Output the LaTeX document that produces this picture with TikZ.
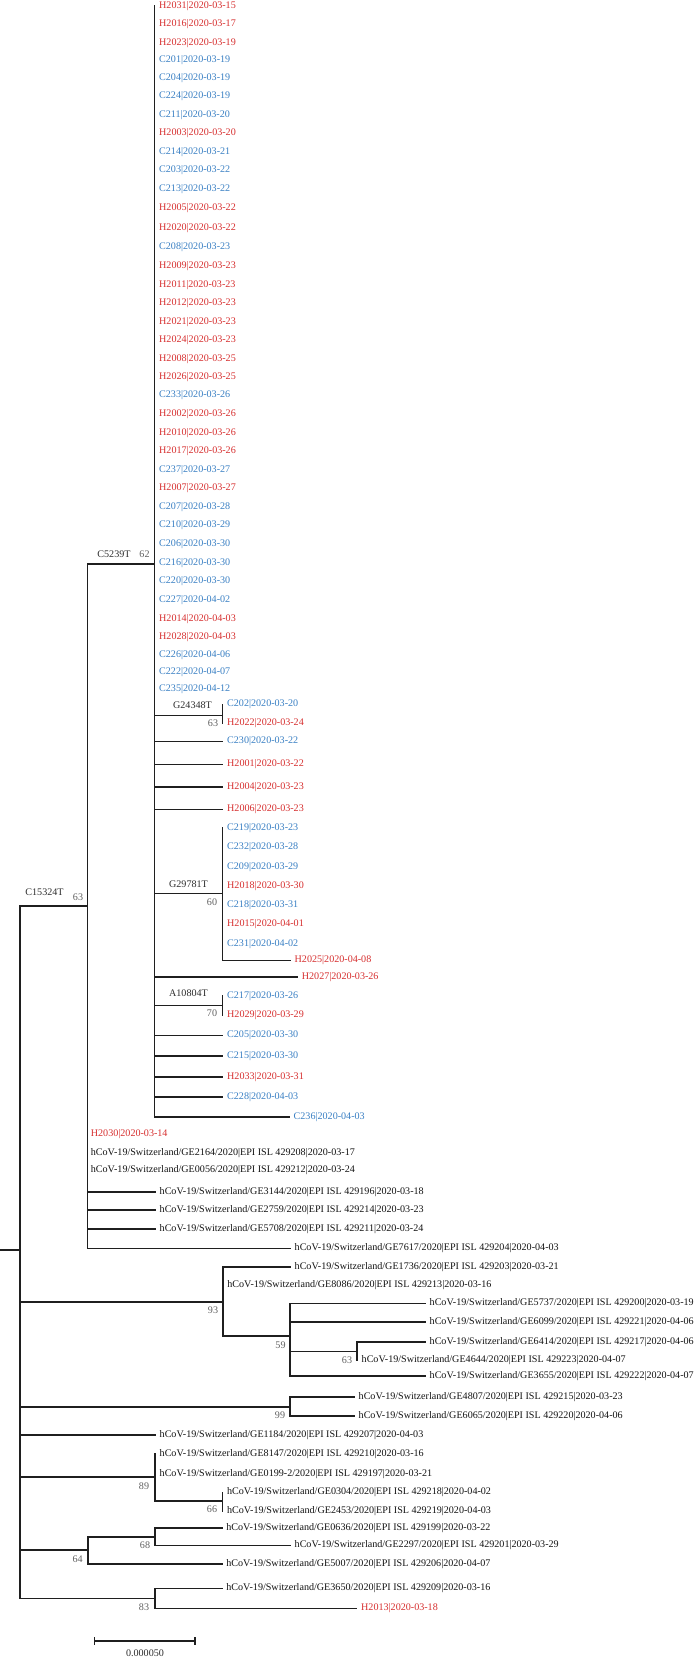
\documentclass[tikz,border=0pt]{standalone}
\usepackage{fontspec}
\setmainfont{Liberation Serif}
\definecolor{hred}{RGB}{215,48,48}
\definecolor{hblue}{RGB}{58,128,196}
\newcommand\lblfont{\fontsize{10.1}{12}\selectfont}
\newcommand\hcv{hCoV-19/Switzerland/}
\tikzset{
  br/.style={line width=1.6pt, draw=black!88, line cap=rect},
  leaf/.style={anchor=west, inner xsep=4.5pt, inner ysep=0pt, text height=6.9pt, text depth=2.2pt, font=\lblfont},
  rl/.style={leaf, text=hred},
  bl/.style={leaf, text=hblue},
  kl/.style={leaf, text=black!92},
  mut/.style={inner sep=0pt, text height=6.9pt, text depth=2.2pt, font=\lblfont, text=black!82},
  boot/.style={inner sep=0pt, text height=6.9pt, text depth=2.2pt, font=\lblfont, text=black!62},
}
\begin{document}
\begin{tikzpicture}[x=1pt,y=-1pt]
\fill[white] (0,0) rectangle (697,1660);
\useasboundingbox (0,0) rectangle (697,1660);

% internal nodes
\coordinate (r0) at (0,1250);
\coordinate (root) at (20,1250);
\coordinate (B) at (87.3,906);
\coordinate (A) at (154.5,563.7);
\coordinate (A1) at (222.5,715.3);
\coordinate (A2) at (222.5,893.3);
\coordinate (A3) at (222.5,1005.3);
\coordinate (C) at (222.7,1301.7);
\coordinate (C1) at (290,1336);
\coordinate (C2) at (357,1351.3);
\coordinate (D) at (290,1406.7);
\coordinate (E) at (155,1477);
\coordinate (E1) at (222.3,1500.7);
\coordinate (F) at (87.7,1549.7);
\coordinate (F1) at (155,1537);
\coordinate (G) at (155,1598.3);

% clade C5239T leaves
\node[rl] (h2031) at (154.5,6) {H2031|2020-03-15};
\node[rl] (h2016) at (154.5,24.3) {H2016|2020-03-17};
\node[rl] (h2023) at (154.5,42.7) {H2023|2020-03-19};
\node[bl] (c201) at (154.5,59.7) {C201|2020-03-19};
\node[bl] (c204) at (154.5,78) {C204|2020-03-19};
\node[bl] (c224) at (154.5,96.3) {C224|2020-03-19};
\node[bl] (c211) at (154.5,114.7) {C211|2020-03-20};
\node[rl] (h2003) at (154.5,133) {H2003|2020-03-20};
\node[bl] (c214) at (154.5,151.7) {C214|2020-03-21};
\node[bl] (c203) at (154.5,170.3) {C203|2020-03-22};
\node[bl] (c213) at (154.5,188.7) {C213|2020-03-22};
\node[rl] (h2005) at (154.5,208) {H2005|2020-03-22};
\node[rl] (h2020) at (154.5,227.7) {H2020|2020-03-22};
\node[bl] (c208) at (154.5,247.3) {C208|2020-03-23};
\node[rl] (h2009) at (154.5,266) {H2009|2020-03-23};
\node[rl] (h2011) at (154.5,284.7) {H2011|2020-03-23};
\node[rl] (h2012) at (154.5,303.3) {H2012|2020-03-23};
\node[rl] (h2021) at (154.5,321.7) {H2021|2020-03-23};
\node[rl] (h2024) at (154.5,340.3) {H2024|2020-03-23};
\node[rl] (h2008) at (154.5,359) {H2008|2020-03-25};
\node[rl] (h2026) at (154.5,377.3) {H2026|2020-03-25};
\node[bl] (c233) at (154.5,395.3) {C233|2020-03-26};
\node[rl] (h2002) at (154.5,414.3) {H2002|2020-03-26};
\node[rl] (h2010) at (154.5,433) {H2010|2020-03-26};
\node[rl] (h2017) at (154.5,451.3) {H2017|2020-03-26};
\node[bl] (c237) at (154.5,469.7) {C237|2020-03-27};
\node[rl] (h2007) at (154.5,487.7) {H2007|2020-03-27};
\node[bl] (c207) at (154.5,507) {C207|2020-03-28};
\node[bl] (c210) at (154.5,525.3) {C210|2020-03-29};
\node[bl] (c206) at (154.5,544) {C206|2020-03-30};
\node[bl] (c216) at (154.5,562.7) {C216|2020-03-30};
\node[bl] (c220) at (154.5,581.3) {C220|2020-03-30};
\node[bl] (c227) at (154.5,599.7) {C227|2020-04-02};
\node[rl] (h2014) at (154.5,618.7) {H2014|2020-04-03};
\node[rl] (h2028) at (154.5,637.3) {H2028|2020-04-03};
\node[bl] (c226) at (154.5,655) {C226|2020-04-06};
\node[bl] (c222) at (154.5,672) {C222|2020-04-07};
\node[bl] (c235) at (154.5,689) {C235|2020-04-12};

\node[bl] (c202) at (222.5,704.5) {C202|2020-03-20};
\node[rl] (h2022) at (222.5,723.5) {H2022|2020-03-24};
\node[bl] (c230) at (222.5,741.3) {C230|2020-03-22};
\node[rl] (h2001) at (222.5,764.3) {H2001|2020-03-22};
\node[rl] (h2004) at (222.5,787) {H2004|2020-03-23};
\node[rl] (h2006) at (222.5,809.3) {H2006|2020-03-23};
\node[bl] (c219) at (222.5,827.7) {C219|2020-03-23};
\node[bl] (c232) at (222.5,847) {C232|2020-03-28};
\node[bl] (c209) at (222.5,866.7) {C209|2020-03-29};
\node[rl] (h2018) at (222.5,885.7) {H2018|2020-03-30};
\node[bl] (c218) at (222.5,905) {C218|2020-03-31};
\node[rl] (h2015) at (222.5,924.3) {H2015|2020-04-01};
\node[bl] (c231) at (222.5,943.7) {C231|2020-04-02};
\node[rl] (h2025) at (290,960.3) {H2025|2020-04-08};
\node[rl] (h2027) at (297.2,977) {H2027|2020-03-26};
\node[bl] (c217) at (222.5,995.7) {C217|2020-03-26};
\node[rl] (h2029) at (222.5,1015) {H2029|2020-03-29};
\node[bl] (c205) at (222.5,1035.3) {C205|2020-03-30};
\node[bl] (c215) at (222.5,1056) {C215|2020-03-30};
\node[rl] (h2033) at (222.5,1076.7) {H2033|2020-03-31};
\node[bl] (c228) at (222.5,1096.7) {C228|2020-04-03};
\node[bl] (c236) at (289,1116.7) {C236|2020-04-03};

% clade C15324T leaves
\node[rl] (h2030) at (86.2,1134.3) {H2030|2020-03-14};
\node[kl] (ge2164) at (86.2,1152.7) {\hcv GE2164/2020|EPI ISL 429208|2020-03-17};
\node[kl] (ge0056) at (86.2,1170.3) {\hcv GE0056/2020|EPI ISL 429212|2020-03-24};
\node[kl] (ge3144) at (155,1191.7) {\hcv GE3144/2020|EPI ISL 429196|2020-03-18};
\node[kl] (ge2759) at (155,1210) {\hcv GE2759/2020|EPI ISL 429214|2020-03-23};
\node[kl] (ge5708) at (155,1229) {\hcv GE5708/2020|EPI ISL 429211|2020-03-24};
\node[kl] (ge7617) at (290,1248.3) {\hcv GE7617/2020|EPI ISL 429204|2020-04-03};

% other clades
\node[kl] (ge1736) at (290,1266.7) {\hcv GE1736/2020|EPI ISL 429203|2020-03-21};
\node[kl] (ge8086) at (222.7,1285.3) {\hcv GE8086/2020|EPI ISL 429213|2020-03-16};
\node[kl] (ge5737) at (425,1303.3) {\hcv GE5737/2020|EPI ISL 429200|2020-03-19};
\node[kl] (ge6099) at (425,1322) {\hcv GE6099/2020|EPI ISL 429221|2020-04-06};
\node[kl] (ge6414) at (425,1341.7) {\hcv GE6414/2020|EPI ISL 429217|2020-04-06};
\node[kl] (ge4644) at (357,1360) {\hcv GE4644/2020|EPI ISL 429223|2020-04-07};
\node[kl] (ge3655) at (425,1376) {\hcv GE3655/2020|EPI ISL 429222|2020-04-07};
\node[kl] (ge4807) at (354,1396.7) {\hcv GE4807/2020|EPI ISL 429215|2020-03-23};
\node[kl] (ge6065) at (354,1415.7) {\hcv GE6065/2020|EPI ISL 429220|2020-04-06};
\node[kl] (ge1184) at (155,1435) {\hcv GE1184/2020|EPI ISL 429207|2020-04-03};
\node[kl] (ge8147) at (155,1454) {\hcv GE8147/2020|EPI ISL 429210|2020-03-16};
\node[kl] (ge0199) at (155,1474.3) {\hcv GE0199-2/2020|EPI ISL 429197|2020-03-21};
\node[kl] (ge0304) at (222.3,1492.3) {\hcv GE0304/2020|EPI ISL 429218|2020-04-02};
\node[kl] (ge2453) at (222.3,1511) {\hcv GE2453/2020|EPI ISL 429219|2020-04-03};
\node[kl] (ge0636) at (221.7,1527.7) {\hcv GE0636/2020|EPI ISL 429199|2020-03-22};
\node[kl] (ge2297) at (290,1545.3) {\hcv GE2297/2020|EPI ISL 429201|2020-03-29};
\node[kl] (ge5007) at (221.7,1563.7) {\hcv GE5007/2020|EPI ISL 429206|2020-04-07};
\node[kl] (ge3650) at (221.7,1588.3) {\hcv GE3650/2020|EPI ISL 429209|2020-03-16};
\node[rl] (h2013) at (356.5,1608.3) {H2013|2020-03-18};

% branch labels
\node[mut] (m1) at (114,555) {C5239T};
\node[boot] (b1) at (144.5,555) {62};
\node[mut] (m2) at (192.5,705.7) {G24348T};
\node[boot] (b2) at (213,724) {63};
\node[mut] (m3) at (188.5,885) {G29781T};
\node[boot] (b3) at (212,902.7) {60};
\node[mut] (m4) at (188.5,993.7) {A10804T};
\node[boot] (b4) at (212,1013.7) {70};
\node[mut] (m5) at (44.5,893.3) {C15324T};
\node[boot] (b5) at (78,897.7) {63};
\node[boot] (b6) at (213,1311) {93};
\node[boot] (b7) at (280.5,1346) {59};
\node[boot] (b8) at (347,1361) {63};
\node[boot] (b9) at (280,1416.3) {99};
\node[boot] (b10) at (144,1487) {89};
\node[boot] (b11) at (212,1510.3) {66};
\node[boot] (b12) at (145,1546) {68};
\node[boot] (b13) at (77.7,1560) {64};
\node[boot] (b14) at (144,1608.3) {83};

% root
\draw[br] (r0) -- (root);
\draw[br] (root |- B) -- (root |- G);
% C15324T
\draw[br] (root |- B) -- (B);
\draw[br] (B |- A) -- (B |- ge7617);
\draw[br] (B |- ge3144) -- (ge3144.west);
\draw[br] (B |- ge2759) -- (ge2759.west);
\draw[br] (B |- ge5708) -- (ge5708.west);
\draw[br] (B |- ge7617) -- (ge7617.west);
% C5239T
\draw[br] (B |- A) -- (A);
\draw[br] (A |- h2031) -- (A |- c236);
\draw[br] (A |- A1) -- (A1);
\draw[br] (A1 |- c202) -- (A1 |- h2022);
\draw[br] (A |- c230) -- (c230.west);
\draw[br] (A |- h2001) -- (h2001.west);
\draw[br] (A |- h2004) -- (h2004.west);
\draw[br] (A |- h2006) -- (h2006.west);
\draw[br] (A |- A2) -- (A2);
\draw[br] (A2 |- c219) -- (A2 |- h2025);
\draw[br] (A2 |- h2025) -- (h2025.west);
\draw[br] (A |- h2027) -- (h2027.west);
\draw[br] (A |- A3) -- (A3);
\draw[br] (A3 |- c217) -- (A3 |- h2029);
\draw[br] (A |- c205) -- (c205.west);
\draw[br] (A |- c215) -- (c215.west);
\draw[br] (A |- h2033) -- (h2033.west);
\draw[br] (A |- c228) -- (c228.west);
\draw[br] (A |- c236) -- (c236.west);
% 93 clade
\draw[br] (root |- C) -- (C);
\draw[br] (C |- ge1736) -- (C |- C1);
\draw[br] (C |- ge1736) -- (ge1736.west);
\draw[br] (C |- C1) -- (C1);
\draw[br] (C1 |- ge5737) -- (C1 |- ge3655);
\draw[br] (C1 |- ge5737) -- (ge5737.west);
\draw[br] (C1 |- ge6099) -- (ge6099.west);
\draw[br] (C1 |- C2) -- (C2);
\draw[br] (C2 |- ge6414) -- (C2 |- ge4644);
\draw[br] (C2 |- ge6414) -- (ge6414.west);
\draw[br] (C1 |- ge3655) -- (ge3655.west);
% 99 clade
\draw[br] (root |- D) -- (D);
\draw[br] (D |- ge4807) -- (D |- ge6065);
\draw[br] (D |- ge4807) -- (ge4807.west);
\draw[br] (D |- ge6065) -- (ge6065.west);
% GE1184
\draw[br] (root |- ge1184) -- (ge1184.west);
% 89 clade
\draw[br] (root |- E) -- (E);
\draw[br] (E |- ge8147) -- (E |- E1);
\draw[br] (E |- E1) -- (E1);
\draw[br] (E1 |- ge0304) -- (E1 |- ge2453);
% 64 clade
\draw[br] (root |- F) -- (F);
\draw[br] (F |- F1) -- (F |- ge5007);
\draw[br] (F |- F1) -- (F1);
\draw[br] (F1 |- ge0636) -- (F1 |- ge2297);
\draw[br] (F1 |- ge0636) -- (ge0636.west);
\draw[br] (F1 |- ge2297) -- (ge2297.west);
\draw[br] (F |- ge5007) -- (ge5007.west);
% 83 clade
\draw[br] (root |- G) -- (G);
\draw[br] (G |- ge3650) -- (G |- h2013);
\draw[br] (G |- ge3650) -- (ge3650.west);
\draw[br] (G |- h2013) -- (h2013.west);

% scale bar
\coordinate (s1) at (94.3,1641);
\coordinate (s2) at (195,1641);
\draw[br, line width=1.3pt, line cap=butt] (s1) -- (s2);
\draw[br, line width=1.3pt, line cap=butt] ([yshift=4pt]s1) -- ([yshift=-4pt]s1);
\draw[br, line width=1.3pt, line cap=butt] ([yshift=4pt]s2) -- ([yshift=-4pt]s2);
\node[mut] (sbl) at (145,1654.3) {0.000050};
\end{tikzpicture}
\end{document}
